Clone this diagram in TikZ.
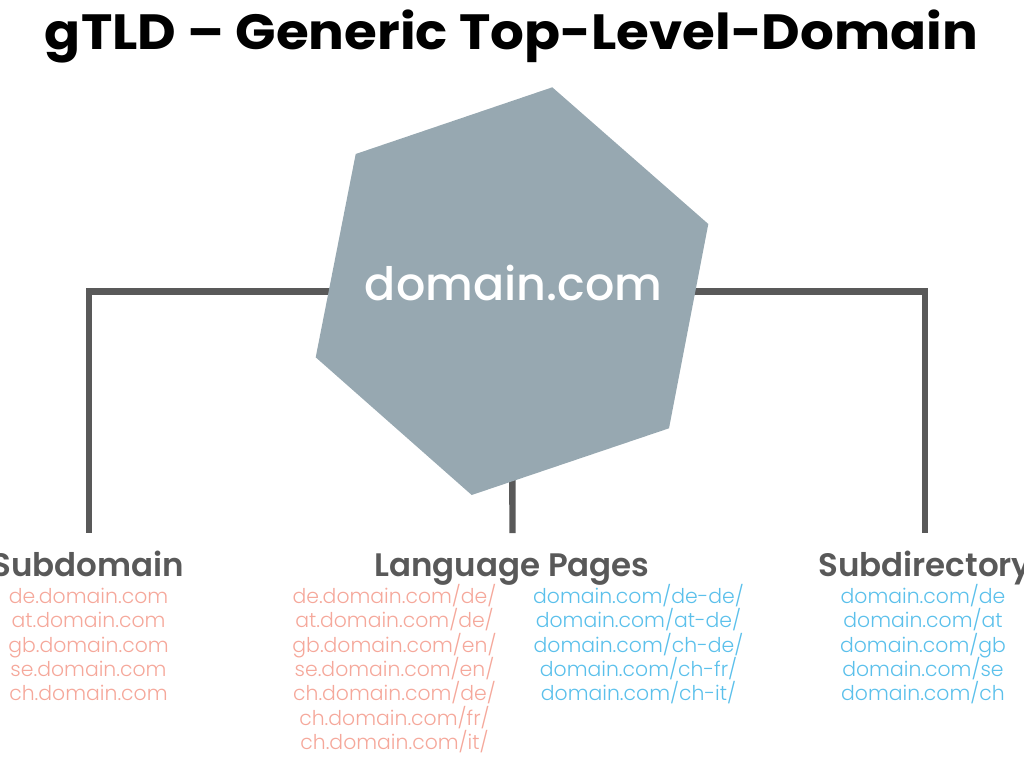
\documentclass[tikz,border=0pt]{standalone}
\usepackage{fontspec}
\setmainfont{Poppins}
\IfFontExistsTF{Poppins SemiBold}
  {\newfontfamily\popsemi{Poppins SemiBold}}
  {\newfontfamily\popsemi[FakeBold=3]{Poppins}}
\IfFontExistsTF{Poppins Medium}
  {\newfontfamily\popmed{Poppins Medium}}
  {\newfontfamily\popmed[FakeBold=2]{Poppins}}
\IfFontExistsTF{Poppins Light}
  {\newfontfamily\poplight{Poppins Light}}
  {\newfontfamily\poplight{Poppins}}
\definecolor{hexfill}{RGB}{151,168,177}
\definecolor{linegray}{RGB}{89,89,89}
\definecolor{urlpink}{RGB}{245,168,155}
\definecolor{urlblue}{RGB}{91,192,235}
\tikzset{
  conn/.style={draw=linegray, line width=6.4pt, line join=miter, line cap=butt},
  heading/.style={anchor=base, inner sep=0pt, text=linegray, font=\popsemi\fontsize{32.5}{33}\selectfont},
  url/.style={anchor=base, inner sep=0pt, font=\poplight\fontsize{20.4}{24}\selectfont},
}
\begin{document}
\begin{tikzpicture}[x=1pt,y=-1pt]
\useasboundingbox (0,0) rectangle (1024,768);
% title
\node[anchor=base, inner sep=0pt] (title) at (511.5,49.3)
  {\resizebox{933pt}{\height}{\fontsize{49.5}{50}\selectfont\bfseries gTLD – Generic Top-Level-Domain}};
% hub and ends
\coordinate (hub) at (512,291.5);
\coordinate (leftend) at (89.2,533.3);
\coordinate (midend) at (512.5,533);
\coordinate (rightend) at (925,533.3);
\draw[conn] (hub) -| (leftend);
\draw[conn] (hub) -| (rightend);
\draw[conn] (hub) -- (midend);
% hexagon
\fill[hexfill] (552.3,87.3) -- (708.3,224) -- (669,428.3) -- (471.7,495) -- (315.7,357.3) -- (355.7,154) -- cycle;
\node[anchor=base, inner sep=0pt, text=white, font=\popmed\fontsize{46}{46}\selectfont] (domain) at (513.5,300.7) {domain.com};
% headings
\node[heading] (subdomain) at (88,576) {Subdomain};
\node[heading] (langpages) at (512,576) {Language Pages};
\node[heading] (subdir) at (925,576) {Subdirectory};
% lists
\foreach \t [count=\i] in {de.domain.com, at.domain.com, gb.domain.com, se.domain.com, ch.domain.com}
  \node[url, text=urlpink] (sd\i) at (88.5,{603.3+24.4*(\i-1)}) {\t};
\foreach \t [count=\i] in {de.domain.com/de/, at.domain.com/de/, gb.domain.com/en/, se.domain.com/en/, ch.domain.com/de/, ch.domain.com/fr/, ch.domain.com/it/}
  \node[url, text=urlpink] (lp\i) at (394.5,{603.3+24.4*(\i-1)}) {\t};
\foreach \t [count=\i] in {domain.com/de-de/, domain.com/at-de/, domain.com/ch-de/, domain.com/ch-fr/, domain.com/ch-it/}
  \node[url, text=urlblue] (lq\i) at (638.5,{603.3+24.4*(\i-1)}) {\t};
\foreach \t [count=\i] in {domain.com/de, domain.com/at, domain.com/gb, domain.com/se, domain.com/ch}
  \node[url, text=urlblue] (dir\i) at (923,{603.3+24.4*(\i-1)}) {\t};
\end{tikzpicture}
\end{document}
